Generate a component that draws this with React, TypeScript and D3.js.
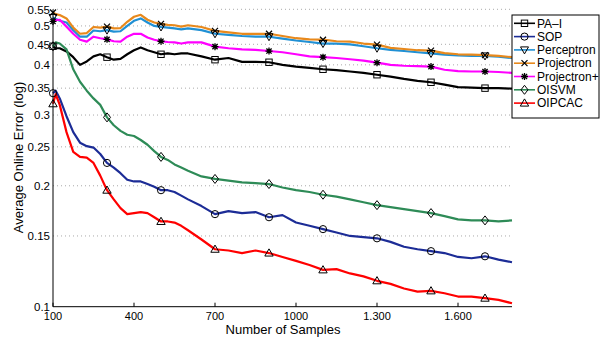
import React from "react";
import * as d3 from "d3";

const samples = [100, 110, 125, 150, 175, 200, 225, 250, 275, 300, 325, 350, 375, 400, 425, 450, 475, 500, 525, 550, 575, 600,
  650, 700, 750, 800, 850, 900, 950, 1000, 1050, 1100, 1150, 1200, 1250, 1300, 1350, 1400, 1450, 1500, 1550, 1600, 1650, 1700, 1750, 1800];

const paI = [0.445, 0.44, 0.44, 0.432, 0.418, 0.40, 0.408, 0.42, 0.425, 0.418, 0.412, 0.414, 0.425, 0.435, 0.442, 0.435, 0.43, 0.425, 0.427, 0.425, 0.427, 0.427,
  0.42, 0.412, 0.416, 0.407, 0.407, 0.406, 0.40, 0.396, 0.393, 0.39, 0.388, 0.385, 0.382, 0.378, 0.374, 0.369, 0.365, 0.362, 0.357, 0.352, 0.351, 0.35, 0.35, 0.349];
const sop = [0.34, 0.345, 0.33, 0.298, 0.272, 0.256, 0.251, 0.249, 0.240, 0.228, 0.222, 0.215, 0.207, 0.205, 0.205, 0.202, 0.199, 0.195, 0.195, 0.193, 0.189, 0.185,
  0.178, 0.170, 0.173, 0.171, 0.172, 0.167, 0.169, 0.162, 0.159, 0.156, 0.153, 0.150, 0.149, 0.148, 0.145, 0.141, 0.139, 0.1375, 0.136, 0.133, 0.132, 0.1335, 0.131, 0.129];
const perceptron = [0.525, 0.52, 0.515, 0.51, 0.488, 0.470, 0.470, 0.487, 0.485, 0.488, 0.484, 0.485, 0.50, 0.515, 0.522, 0.51, 0.50, 0.497, 0.495, 0.493, 0.49, 0.493,
  0.488, 0.478, 0.475, 0.472, 0.47, 0.47, 0.465, 0.46, 0.456, 0.452, 0.452, 0.45, 0.445, 0.44, 0.436, 0.433, 0.43, 0.427, 0.424, 0.422, 0.421, 0.421, 0.419, 0.416];
const projectron = [0.54, 0.535, 0.532, 0.522, 0.495, 0.478, 0.48, 0.497, 0.495, 0.498, 0.493, 0.494, 0.512, 0.527, 0.533, 0.518, 0.51, 0.506, 0.503, 0.502, 0.498, 0.502,
  0.497, 0.486, 0.482, 0.478, 0.478, 0.478, 0.472, 0.466, 0.463, 0.462, 0.458, 0.457, 0.452, 0.449, 0.441, 0.438, 0.435, 0.434, 0.428, 0.425, 0.424, 0.423, 0.421, 0.418];
const projectronPlus = [0.513, 0.517, 0.518, 0.498, 0.478, 0.462, 0.457, 0.47, 0.466, 0.463, 0.458, 0.457, 0.47, 0.478, 0.478, 0.468, 0.462, 0.458, 0.456, 0.455, 0.452, 0.455,
  0.455, 0.444, 0.44, 0.437, 0.436, 0.433, 0.43, 0.425, 0.42, 0.418, 0.416, 0.413, 0.41, 0.405, 0.40, 0.398, 0.397, 0.396, 0.389, 0.386, 0.385, 0.385, 0.384, 0.382];
const oisvm = [0.445, 0.455, 0.452, 0.437, 0.39, 0.363, 0.345, 0.33, 0.318, 0.296, 0.283, 0.274, 0.268, 0.266, 0.26, 0.253, 0.244, 0.236, 0.232, 0.226, 0.222, 0.218,
  0.211, 0.208, 0.206, 0.204, 0.203, 0.202, 0.198, 0.195, 0.193, 0.19, 0.188, 0.185, 0.182, 0.179, 0.177, 0.175, 0.173, 0.171, 0.168, 0.165, 0.164, 0.164, 0.163, 0.164];
const oipcac = [0.32, 0.338, 0.318, 0.272, 0.243, 0.236, 0.235, 0.228, 0.212, 0.195, 0.185, 0.176, 0.170, 0.171, 0.172, 0.171, 0.167, 0.163, 0.163, 0.162, 0.159, 0.155,
  0.147, 0.139, 0.138, 0.136, 0.138, 0.136, 0.133, 0.130, 0.127, 0.1235, 0.124, 0.121, 0.119, 0.116, 0.114, 0.111, 0.109, 0.1095, 0.108, 0.106, 0.106, 0.105, 0.104, 0.102];

const markerSamples = [100, 300, 500, 700, 900, 1100, 1300, 1500, 1700];
const xTicks = [100, 400, 700, 1000, 1300, 1600];
const xTickLabels = ["100", "400", "700", "1000", "1.300", "1.600"];
const yTicks = [0.1, 0.15, 0.2, 0.25, 0.3, 0.35, 0.4, 0.45, 0.5, 0.55];
const yTickLabels = ["0.1", "0.15", "0.2", "0.25", "0.3", "0.35", "0.4", "0.45", "0.5", "0.55"];

type Series = { name: string; values: number[]; color: string; marker: string };
const series: Series[] = [
  { name: "PA\u2013I", values: paI, color: "#000000", marker: "square" },
  { name: "SOP", values: sop, color: "#1c2c96", marker: "circle" },
  { name: "Perceptron", values: perceptron, color: "#2090d4", marker: "tridown" },
  { name: "Projectron", values: projectron, color: "#e8891c", marker: "x" },
  { name: "Projectron+", values: projectronPlus, color: "#ff00ff", marker: "star" },
  { name: "OISVM", values: oisvm, color: "#2e8b57", marker: "diamond" },
  { name: "OIPCAC", values: oipcac, color: "#ff0000", marker: "triup" },
];

function Marker({ type, x, y }: { type: string; x: number; y: number }) {
  const s = { fill: "none", stroke: "#000", strokeWidth: 1 } as const;
  switch (type) {
    case "square":
      return <rect x={x - 3.2} y={y - 3.2} width={6.4} height={6.4} {...s} />;
    case "circle":
      return <circle cx={x} cy={y} r={3.6} {...s} />;
    case "tridown":
      return <path d={`M${x - 4},${y - 3}L${x + 4},${y - 3}L${x},${y + 4}Z`} {...s} />;
    case "triup":
      return <path d={`M${x - 4.2},${y + 3}L${x + 4.2},${y + 3}L${x},${y - 4.2}Z`} {...s} />;
    case "diamond":
      return <path d={`M${x},${y - 4.5}L${x + 3.5},${y}L${x},${y + 4.5}L${x - 3.5},${y}Z`} {...s} />;
    case "x":
      return <path d={`M${x - 3},${y - 3}L${x + 3},${y + 3}M${x - 3},${y + 3}L${x + 3},${y - 3}`} {...s} strokeWidth={1.2} />;
    case "star":
      return (
        <path
          d={`M${x - 3.5},${y}L${x + 3.5},${y}M${x},${y - 3.5}L${x},${y + 3.5}M${x - 2.6},${y - 2.6}L${x + 2.6},${y + 2.6}M${x - 2.6},${y + 2.6}L${x + 2.6},${y - 2.6}`}
          {...s}
          strokeWidth={1.3}
        />
      );
    default:
      return null;
  }
}

export default function App() {
  const W = 600, H = 340;
  const left = 53, right = 512, top = 9.3, bottom = 306.7;
  const x = d3.scaleLinear().domain([100, 1800]).range([left, right]);
  const y = d3.scaleLog().domain([0.1, 0.55]).range([bottom, top]);
  const line = d3.line<number>().x((_, i) => x(samples[i])).y((v) => y(v));
  const font = "'Liberation Sans', Arial, Helvetica, sans-serif";

  const legX = 512, legY = 15, legW = 87, legH = 103;
  const legStep = 13.3;

  return (
    <svg width={W} height={H} style={{ position: "absolute", left: 0, top: 0, background: "#fff" }} fontFamily={font}>
      <rect width={W} height={H} fill="#fff" />
      {yTicks.filter((t) => t > 0.1).map((t) => (
        <line key={t} x1={left} x2={right} y1={y(t)} y2={y(t)} stroke="#aaa" strokeWidth={1} strokeDasharray="1,3" />
      ))}
      {series.map((s) => (
        <path key={s.name} d={line(s.values) || ""} fill="none" stroke={s.color} strokeWidth={2.2} strokeLinejoin="round" />
      ))}
      {series.map((s) =>
        markerSamples.map((m) => {
          const i = samples.indexOf(m);
          return <Marker key={s.name + m} type={s.marker} x={x(m)} y={y(s.values[i])} />;
        })
      )}
      <line x1={left} x2={left} y1={top} y2={bottom} stroke="#000" strokeWidth={1} />
      <line x1={left} x2={right} y1={bottom} y2={bottom} stroke="#000" strokeWidth={1} />
      {xTicks.map((t, i) => (
        <g key={t}>
          <line x1={x(t)} x2={x(t)} y1={bottom} y2={bottom - 4} stroke="#000" />
          <text x={x(t)} y={319.5} fontSize={11} textAnchor="middle" fill="#000">
            {xTickLabels[i]}
          </text>
        </g>
      ))}
      {yTicks.map((t, i) => (
        <text key={t} x={50} y={y(t) + 4.2} fontSize={11.5} textAnchor="end" fill="#000">
          {yTickLabels[i]}
        </text>
      ))}
      <text x={283} y={333.5} fontSize={13} textAnchor="middle" fill="#000">
        Number of Samples
      </text>
      <text transform={`translate(23,157.5) rotate(-90)`} fontSize={13} textAnchor="middle" fill="#000">
        Average Online Error (log)
      </text>
      <rect x={legX} y={legY} width={legW} height={legH} fill="#fff" stroke="#000" strokeWidth={1} />
      {series.map((s, i) => {
        const ly = legY + 8.3 + i * legStep;
        return (
          <g key={s.name}>
            <line x1={legX + 2} x2={legX + 23} y1={ly} y2={ly} stroke={s.color} strokeWidth={1.6} />
            <Marker type={s.marker} x={legX + 12.5} y={ly} />
            <text x={legX + 25} y={ly + 4.2} fontSize={12} fill="#000">
              {s.name}
            </text>
          </g>
        );
      })}
    </svg>
  );
}
